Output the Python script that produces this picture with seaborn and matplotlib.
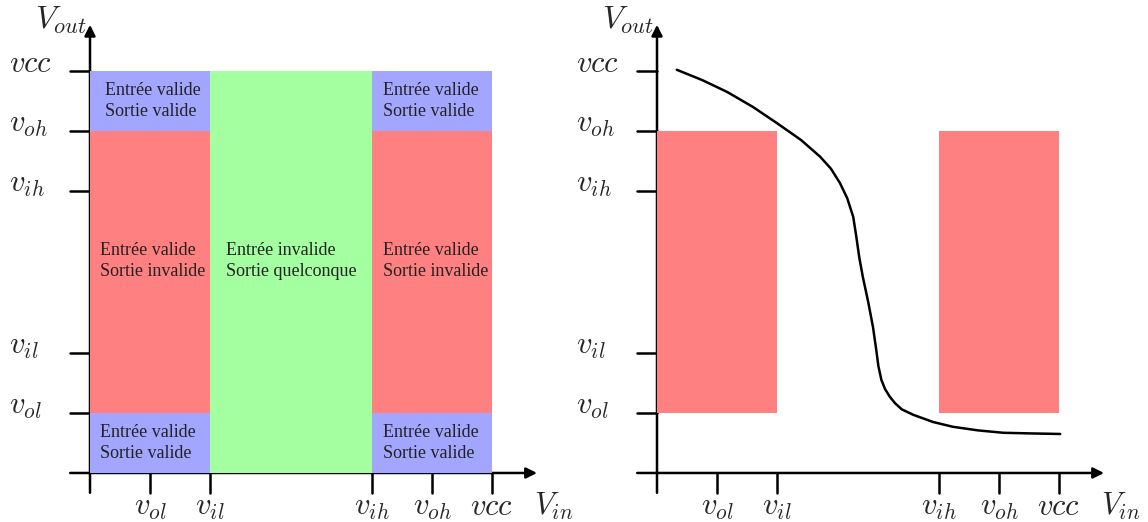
import matplotlib
matplotlib.use("Agg")
import matplotlib.pyplot as plt
import seaborn as sns
import pandas as pd

# niveaux logiques (en unites de schema)
level_names = ["gnd", "vol", "vil", "vih", "voh", "vcc"]
level_values = [0, 1, 2, 4.7, 5.7, 6.7]
level_labels = ["", "$v_{ol}$", "$v_{il}$", "$v_{ih}$", "$v_{oh}$", "$vcc$"]
lv = dict(zip(level_names, level_values))

# zones du schema de gauche : (x0, x1, y0, y1, couleur, texte)
left_zones = [
    ("gnd", "vil", "voh", "vcc", "blue", "Entrée valide\nSortie valide"),
    ("gnd", "vil", "vol", "voh", "red", "Entrée valide\nSortie invalide"),
    ("gnd", "vil", "gnd", "vol", "blue", "Entrée valide\nSortie valide"),
    ("vil", "vih", "gnd", "vcc", "green", "Entrée invalide\nSortie quelconque"),
    ("vih", "vcc", "voh", "vcc", "blue", "Entrée valide\nSortie valide"),
    ("vih", "vcc", "vol", "voh", "red", "Entrée valide\nSortie invalide"),
    ("vih", "vcc", "gnd", "vol", "blue", "Entrée valide\nSortie valide"),
]

# zones interdites du schema de droite
right_zones = [
    ("gnd", "vil", "vol", "voh", "red"),
    ("vih", "vcc", "vol", "voh", "red"),
]

# caracteristique de transfert
vin = [0.33, 0.75, 1.17, 1.6, 2.0, 2.4, 2.72, 2.9, 3.05, 3.17, 3.27, 3.32, 3.37, 3.43,
       3.52, 3.6, 3.65, 3.69, 3.74, 3.8, 3.88, 3.97, 4.08, 4.27, 4.6, 4.93, 5.35, 5.77,
       6.2, 6.72]
vout = [6.72, 6.55, 6.35, 6.1, 5.83, 5.55, 5.27, 5.07, 4.83, 4.58, 4.27, 3.95, 3.6, 3.27,
        2.85, 2.43, 2.08, 1.78, 1.55, 1.4, 1.27, 1.16, 1.06, 0.97, 0.85, 0.77, 0.71, 0.67,
        0.66, 0.65]

colors = {"blue": "#a3a6ff", "red": "#ff8080", "green": "#a3ff9f"}

sns.set_theme(style="white")
plt.rcParams["mathtext.fontset"] = "cm"
plt.rcParams["font.family"] = ["Liberation Serif", "DejaVu Serif"]

fig = plt.figure(figsize=(11.48, 5.22), dpi=100)
ax1 = fig.add_axes([0, 0, 570 / 1148, 1])
ax2 = fig.add_axes([570 / 1148, 0, 578 / 1148, 1])
ax1.set_xlim(-1.5, 8.0)
ax2.set_xlim(-1.45, 8.183)


def draw_axes(ax):
    ax.set_ylim(-0.817, 7.883)
    ax.axis("off")
    arrow = dict(arrowstyle="-|>", lw=1.8, color="black", mutation_scale=16,
                 shrinkA=0, shrinkB=0)
    ax.annotate("", xy=(7.45, 0), xytext=(-0.33, 0), arrowprops=arrow, zorder=1)
    ax.annotate("", xy=(0, 7.47), xytext=(0, -0.33), arrowprops=arrow, zorder=1)
    for name, val, lab in zip(level_names, level_values, level_labels):
        if name == "gnd":
            continue
        ax.plot([-0.33, 0], [val, val], color="black", lw=1.8, zorder=1)
        ax.plot([val, val], [0, -0.33], color="black", lw=1.8, zorder=1)
        ax.text(-1.35, val + 0.1, lab, fontsize=22, ha="left", va="center")
        ax.text(val, -0.58, lab, fontsize=22, ha="center", va="center")
    ax.text(7.4, -0.55, "$V_{in}$", fontsize=22, ha="left", va="center")
    ax.text(-0.05, 7.55, "$V_{out}$", fontsize=23, ha="right", va="center")


draw_axes(ax1)
draw_axes(ax2)

# schema de gauche
for x0, x1, y0, y1, c, txt in left_zones:
    ax1.fill_between([lv[x0], lv[x1]], lv[y0], lv[y1], color=colors[c], lw=0, zorder=2)
    pad = 0.27 if c == "green" else 0.18
    if x0 == "gnd":
        pad = 0.25 if y0 == "voh" else 0.17
    ty = (lv[y0] + lv[y1]) / 2
    if y0 == "vol" or c == "green":
        ty = 3.54
    ax1.text(lv[x0] + pad, ty, txt, fontsize=13, ha="left", va="center",
             color="#222222", linespacing=1.3, zorder=3)

# schema de droite
for x0, x1, y0, y1, c in right_zones:
    ax2.fill_between([lv[x0], lv[x1]], lv[y0], lv[y1], color=colors[c], lw=0, zorder=2)

curve = pd.DataFrame({"vin": vin, "vout": vout})
sns.lineplot(data=curve, x="vin", y="vout", ax=ax2, color="black", lw=1.8,
             sort=False, estimator=None, zorder=3)
ax2.set_xlim(-1.45, 8.183)
ax2.set_ylim(-0.817, 7.883)
ax2.axis("off")

fig.savefig("out.png", dpi=100)
